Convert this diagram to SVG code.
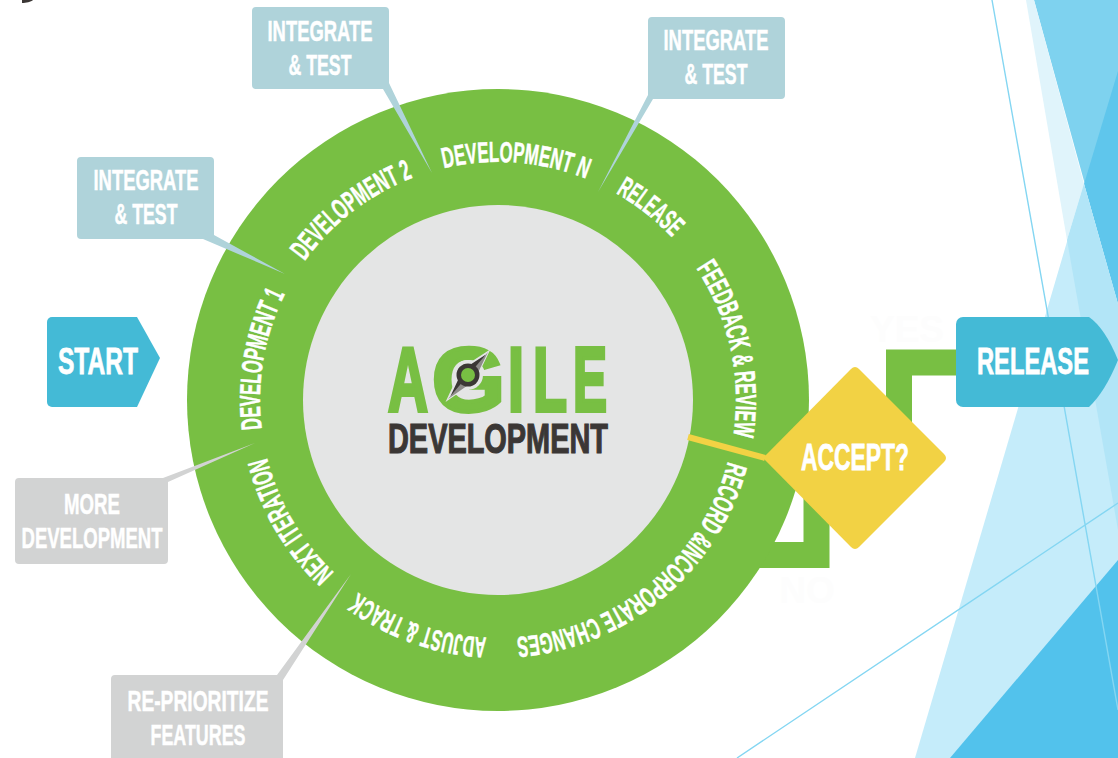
<svg xmlns="http://www.w3.org/2000/svg" width="1118" height="758" viewBox="0 0 1118 758">
<style>
text{font-family:"Liberation Sans Narrow","Liberation Sans",Arial,sans-serif;font-weight:700;fill:#fff;stroke:#fff;stroke-width:.5px}
.c{text-anchor:middle}
.box{font-size:30px}
.ring{font-size:29px}
.big{font-size:37px;stroke-width:.8px}
.ghost{fill:#fdfdfd;stroke:none}
.blue{fill:#afd3da}
.gray{fill:#d2d3d3}
.tile{fill:#44bad6}
.link{fill:none;stroke:#78bf43;stroke-width:26}
</style>
<defs>
<path id="orbit" d="M498,162A238,238 0 1 1 498,638A238,238 0 1 1 498,162A238,238 0 1 1 498,638A238,238 0 1 1 498,162"/>
</defs>
<g id="background">
<polygon points="1034,0 1118,0 1118,304" fill="#7ed2ef"/>
<polygon points="1118,71 1084,184 1118,304" fill="#5fc6ec"/>
<polygon points="1026,0 1034,0 1084,184 1067,240" fill="#e0f4fb"/>
<polygon points="915,758 1084,184 1118,304 1118,758" fill="#c5ecfa"/>
<polygon points="1067,240 1084,184 1118,304 1118,530" fill="#b2e5f7"/>
<polygon points="950,758 1118,560 1118,758" fill="#52c2ec"/>
<path d="M992,0L1118,710M737,758L1118,503" fill="none" stroke="#84d6f2" stroke-width="1.4"/>
</g>
<path id="speck" d="M22,0H33C31,2 26,3 22,3Z" fill="#3b3735"/>
<text class="c big ghost" x="907" y="342">YES</text>
<text class="c big ghost" x="807" y="603">NO</text>
<g id="connectors">
<path class="link" d="M960,362.5H899V430"/>
<path class="link" d="M745,555H816.5V490"/>
</g>
<g id="wheel">
<circle cx="498" cy="400" r="311" fill="#78bf43"/>
<circle cx="498" cy="400" r="195" fill="#e4e5e5"/>
<path d="M688,437L765,458" fill="none" stroke="#f2d244" stroke-width="6"/>
<text class="ring"><textPath href="#orbit" startOffset="1092" textLength="139" lengthAdjust="spacingAndGlyphs">DEVELOPMENT 1</textPath></text>
<text class="ring"><textPath href="#orbit" startOffset="1269" textLength="139" lengthAdjust="spacingAndGlyphs">DEVELOPMENT 2</textPath></text>
<text class="ring"><textPath href="#orbit" startOffset="1440" textLength="145" lengthAdjust="spacingAndGlyphs">DEVELOPMENT N</textPath></text>
<text class="ring"><textPath href="#orbit" startOffset="123" textLength="72" lengthAdjust="spacingAndGlyphs">RELEASE</textPath></text>
<text class="ring"><textPath href="#orbit" startOffset="234" textLength="176" lengthAdjust="spacingAndGlyphs">FEEDBACK &amp; REVIEW</textPath></text>
<text class="ring"><textPath href="#orbit" startOffset="436" textLength="293" lengthAdjust="spacingAndGlyphs">RECORD &amp;INCORPORATE CHANGES</textPath></text>
<text class="ring"><textPath href="#orbit" startOffset="759" textLength="138" lengthAdjust="spacingAndGlyphs">ADJUST &amp; TRACK</textPath></text>
<text class="ring"><textPath href="#orbit" startOffset="928" textLength="135" lengthAdjust="spacingAndGlyphs">NEXT ITERATION</textPath></text>
</g>
<g id="logo">
<text style="font-size:91px;fill:#78bf43;stroke:#78bf43;stroke-width:4px"><tspan x="388" y="411" textLength="40" lengthAdjust="spacingAndGlyphs">A</tspan><tspan x="432" y="411" textLength="73" lengthAdjust="spacingAndGlyphs">G</tspan><tspan x="508" y="411" textLength="16" lengthAdjust="spacingAndGlyphs">I</tspan><tspan x="533" y="411" textLength="34" lengthAdjust="spacingAndGlyphs">L</tspan><tspan x="573" y="411" textLength="34" lengthAdjust="spacingAndGlyphs">E</tspan></text>
<circle cx="468" cy="375" r="15" fill="#e4e5e5"/>
<polygon points="488,352 474,381 448,399 462,369" fill="#3b3735" stroke="#e4e5e5" stroke-width="2"/>
<polygon points="488,352 474,381 448,399" fill="#8d8b89"/>
<circle cx="468" cy="375" r="11.5" fill="#3b3735"/>
<circle cx="468" cy="375" r="7" fill="#78bf43"/>
<text x="388" y="452.5" textLength="220" lengthAdjust="spacingAndGlyphs" style="font-size:42px;fill:#3b3735;stroke:#3b3735;stroke-width:1.2px">DEVELOPMENT</text>
</g>
<g id="integrate-1">
<path class="blue" d="M81,157H210a4,4 0 0 1 4,4V235L285,274L203,239H81a4,4 0 0 1-4-4V161a4,4 0 0 1 4-4Z"/>
<text class="box c" x="146" y="190" textLength="105" lengthAdjust="spacingAndGlyphs">INTEGRATE</text>
<text class="box c" x="146" y="224" textLength="63" lengthAdjust="spacingAndGlyphs">&amp; TEST</text>
</g>
<g id="integrate-2">
<path class="blue" d="M256,7H385a4,4 0 0 1 4,4V83L432,173L383,89H256a4,4 0 0 1-4-4V11a4,4 0 0 1 4-4Z"/>
<text class="box c" x="320" y="41" textLength="105" lengthAdjust="spacingAndGlyphs">INTEGRATE</text>
<text class="box c" x="320" y="75" textLength="63" lengthAdjust="spacingAndGlyphs">&amp; TEST</text>
</g>
<g id="integrate-3">
<path class="blue" d="M652,17H781a4,4 0 0 1 4,4V95a4,4 0 0 1-4,4H653L598,192L648,95V21a4,4 0 0 1 4-4Z"/>
<text class="box c" x="716" y="50" textLength="105" lengthAdjust="spacingAndGlyphs">INTEGRATE</text>
<text class="box c" x="716" y="84" textLength="63" lengthAdjust="spacingAndGlyphs">&amp; TEST</text>
</g>
<g id="more-development">
<path class="gray" d="M19,478H163L255,443L168,482V560a4,4 0 0 1-4,4H19a4,4 0 0 1-4-4V482a4,4 0 0 1 4-4Z"/>
<text class="box c" x="92" y="514" textLength="56" lengthAdjust="spacingAndGlyphs">MORE</text>
<text class="box c" x="92" y="548" textLength="141" lengthAdjust="spacingAndGlyphs">DEVELOPMENT</text>
</g>
<g id="re-prioritize">
<path class="gray" d="M115,675H277L351,574L283,680V758H111V679a4,4 0 0 1 4-4Z"/>
<text class="box c" x="198" y="711" textLength="141" lengthAdjust="spacingAndGlyphs">RE-PRIORITIZE</text>
<text class="box c" x="198" y="745" textLength="95" lengthAdjust="spacingAndGlyphs">FEATURES</text>
</g>
<g id="start">
<path class="tile" d="M52,317H137L160,358L137,407H52a5,5 0 0 1-5-5V322a5,5 0 0 1 5-5Z"/>
<text class="c big" x="98" y="374" textLength="80" lengthAdjust="spacingAndGlyphs">START</text>
</g>
<g id="accept">
<path d="M851,369Q855,365 859,369L944,454Q948,458 944,462L859,547Q855,551 851,547L763,458Z" fill="#f2d244"/>
<text class="c big" x="855" y="469.5" textLength="108" lengthAdjust="spacingAndGlyphs">ACCEPT?</text>
</g>
<g id="release">
<path class="tile" d="M963,317H1089Q1105,328 1118,360Q1105,392 1089,407H963a7,7 0 0 1-7-7V324a7,7 0 0 1 7-7Z"/>
<text class="c big" x="1033" y="374" textLength="112" lengthAdjust="spacingAndGlyphs">RELEASE</text>
</g>
</svg>
